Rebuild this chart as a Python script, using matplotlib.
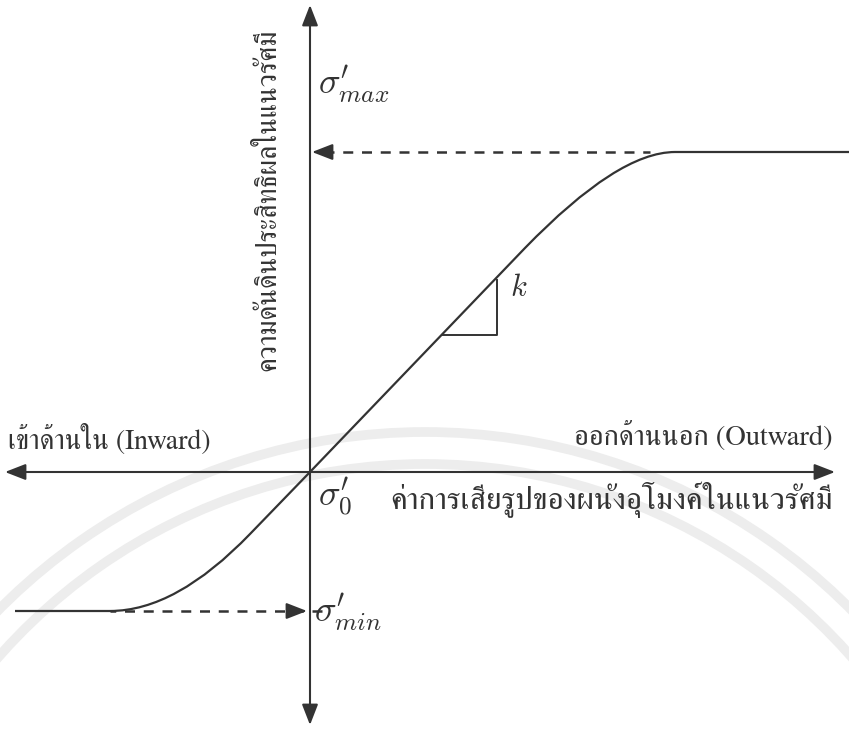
import matplotlib
matplotlib.use('Agg')
import matplotlib.pyplot as plt
from matplotlib import font_manager
from matplotlib.ft2font import FT2Font
from matplotlib.path import Path
from matplotlib.patches import PathPatch, Arc

# ข้อมูล (หน่วยเป็นพิกเซลจากจุดกำเนิด)
sig_max = 320
sig_min = -139
x_left, x_right = -295, 539

# เส้นโค้ง: ช่วงราบล่าง -> โค้ง -> เส้นตรงผ่านจุดกำเนิด -> โค้ง -> ช่วงราบบน
curve_x = [x_left, -200, -134, -60, 0, 215, 308, 365, x_right]
curve_y = [sig_min, sig_min, sig_min, -62, 0, 224, sig_max, sig_max, sig_max]
curve_codes = [Path.MOVETO, Path.LINETO, Path.CURVE3, Path.CURVE3,
               Path.LINETO, Path.LINETO, Path.CURVE3, Path.CURVE3, Path.LINETO]

# สามเหลี่ยมความชัน k
tri_x = [133, 187, 187]
tri_y = [137, 137, 192]

ylabel = "ความดันดินประสิทธิผลในแนวรัศมี"
xlabel = "ค่าการเสียรูปของผนังอุโมงค์ในแนวรัศมี"
left_label = "เข้าด้านใน (Inward)"
right_label = "ออกด้านนอก (Outward)"

# หา font ที่มีอักษรไทย
thai_font = None
for f in font_manager.fontManager.ttflist:
    try:
        if 0x0E01 in FT2Font(f.fname).get_charmap():
            thai_font = f.name
            if 'serif' in f.name.lower() or 'sarabun' in f.name.lower():
                break
    except Exception:
        pass
families = [thai_font, 'DejaVu Serif'] if thai_font else ['DejaVu Serif']
plt.rcParams['font.family'] = families
plt.rcParams['mathtext.fontset'] = 'cm'

col = '#333333'

fig = plt.figure(figsize=(8.49, 7.29), dpi=100)
ax = fig.add_axes([0, 0, 1, 1])
ax.set_xlim(-310, 539)
ax.set_ylim(-257, 472)
ax.axis('off')

# ลายน้ำจาง ๆ
for r in [600, 568]:
    ax.add_patch(Arc((115, -560), 2 * r, 2 * r, theta1=20, theta2=160,
                     color='#ededed', lw=7, zorder=0))

# แกน
ax.annotate('', xy=(525, 0), xytext=(-305, 0),
            arrowprops=dict(arrowstyle='<|-|>,head_length=0.9,head_width=0.35',
                            color=col, lw=1.5, mutation_scale=14,
                            shrinkA=0, shrinkB=0))
ax.annotate('', xy=(0, 467), xytext=(0, -253),
            arrowprops=dict(arrowstyle='<|-|>,head_length=0.9,head_width=0.35',
                            color=col, lw=1.5, mutation_scale=14,
                            shrinkA=0, shrinkB=0))

# เส้นโค้ง
path = Path(list(zip(curve_x, curve_y)), curve_codes)
ax.add_patch(PathPatch(path, fill=False, edgecolor=col, lw=1.6, zorder=3))

# เส้นประ
ax.plot([14, 340], [sig_max, sig_max], ls=(0, (4, 3.5)), color=col, lw=1.8)
ax.plot([12, -200], [sig_min, sig_min], ls=(0, (4, 3.5)), color=col, lw=1.8)
ax.annotate('', xy=(2, sig_max), xytext=(20, sig_max),
            arrowprops=dict(arrowstyle='-|>,head_length=0.9,head_width=0.35',
                            color=col, lw=1.5, mutation_scale=14,
                            shrinkA=0, shrinkB=0))
ax.annotate('', xy=(-3, sig_min), xytext=(-20, sig_min),
            arrowprops=dict(arrowstyle='-|>,head_length=0.9,head_width=0.35',
                            color=col, lw=1.5, mutation_scale=14,
                            shrinkA=0, shrinkB=0))

# สามเหลี่ยม
ax.plot([tri_x[0], tri_x[1], tri_x[2]], [tri_y[0], tri_y[1], tri_y[2]],
        color=col, lw=1.4)
ax.text(200, 183, r"$k$", fontsize=22, color=col, va='center', ha='left')

# ป้าย σ
ax.text(8, 388, r"$\sigma^{\prime}_{max}$", fontsize=26, color=col,
        va='center', ha='left')
ax.text(8, -25, r"$\sigma^{\prime}_{\mathit{0}}$", fontsize=26, color=col,
        va='center', ha='left')
ax.text(4, -140, r"$\sigma^{\prime}_{min}$", fontsize=26, color=col,
        va='center', ha='left')

# ข้อความภาษาไทย
ax.text(-42, 272, ylabel, rotation=90, fontsize=20, color=col,
        va='center', ha='center')
ax.text(80, -28, xlabel, fontsize=22.5, color=col, va='center', ha='left')
ax.text(-302, 32, left_label, fontsize=20, color=col, va='center', ha='left')
ax.text(523, 36, right_label, fontsize=20.5, color=col, va='center', ha='right')

fig.savefig('out.png', dpi=100)
